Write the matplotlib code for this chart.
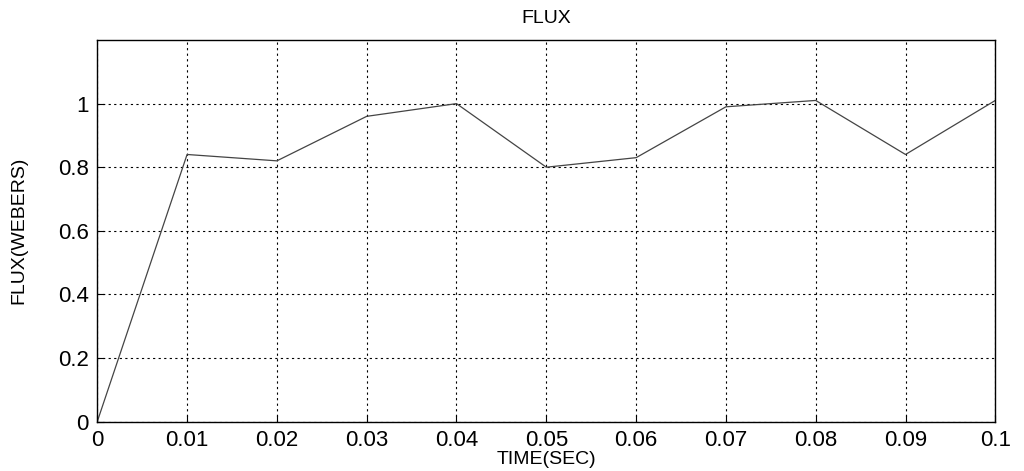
import matplotlib
matplotlib.use("Agg")
import matplotlib.pyplot as plt
import numpy as np

plt.rcParams['font.family'] = ['Liberation Sans', 'DejaVu Sans']

time = [0, 0.01, 0.02, 0.03, 0.04, 0.05, 0.06, 0.07, 0.08, 0.09, 0.1]
flux = [0, 0.84, 0.82, 0.96, 1.0, 0.80, 0.83, 0.99, 1.01, 0.84, 1.01]
xticks = [0, 0.01, 0.02, 0.03, 0.04, 0.05, 0.06, 0.07, 0.08, 0.09, 0.1]
xticklabels = ['0', '0.01', '0.02', '0.03', '0.04', '0.05', '0.06', '0.07', '0.08', '0.09', '0.1']
yticks = [0, 0.2, 0.4, 0.6, 0.8, 1.0]
yticklabels = ['0', '0.2', '0.4', '0.6', '0.8', '1']

fig = plt.figure(figsize=(10.24, 4.71), dpi=100)
ax = fig.add_axes([0.095, 0.105, 0.877, 0.81])
ax.plot(time, flux, color='#444444', linewidth=0.9)

ax.set_xlim(0, 0.1)
ax.set_ylim(0, 1.2)
ax.set_xticks(xticks)
ax.set_xticklabels(xticklabels)
ax.set_yticks(yticks)
ax.set_yticklabels(yticklabels)
ax.tick_params(direction='in', length=5, labelsize=16, pad=6)
ax.grid(True, color='black', linestyle=(0, (2, 3)), linewidth=0.8)
for s in ax.spines.values():
    s.set_linewidth(1.0)

ax.set_title('FLUX', fontsize=14, pad=12)
ax.set_xlabel('TIME(SEC)', fontsize=14, labelpad=0)
ax.set_ylabel('FLUX(WEBERS)', fontsize=14, labelpad=22)

fig.savefig('out.png', dpi=100)
